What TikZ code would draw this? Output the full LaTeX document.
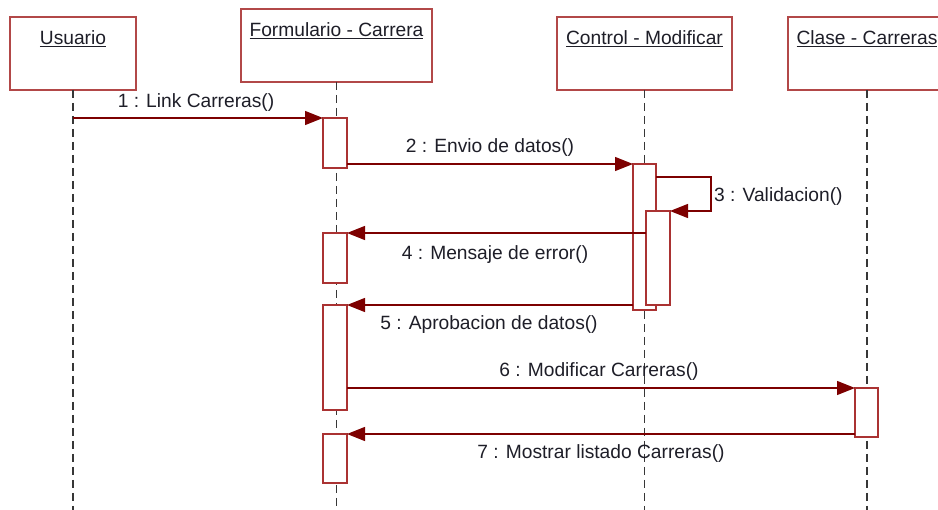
\documentclass[tikz,border=0pt]{standalone}
\usepackage{fontspec}
\setmainfont{Liberation Sans}
\usetikzlibrary{arrows.meta,calc}
\definecolor{boxred}{RGB}{178,72,72}
\definecolor{actred}{RGB}{170,50,50}
\definecolor{msgred}{RGB}{125,0,0}
\definecolor{lifegray}{RGB}{55,55,55}
\definecolor{txt}{RGB}{30,30,40}
\begin{document}
\begin{tikzpicture}[x=1pt,y=-1pt,
  font=\fontsize{19.2}{22}\selectfont, text=txt,
  objbox/.style={draw=boxred, line width=1.5pt, fill=white, inner sep=0pt, outer sep=0pt, minimum height=73pt},
  objname/.style={inner sep=0pt, anchor=base},
  act/.style={draw=actred, line width=1.3pt, fill=white, minimum width=24pt, inner sep=0pt, outer sep=0pt},
  life/.style={draw=lifegray, line width=1.4pt, dash pattern=on 8pt off 5pt},
  msg/.style={draw=msgred, line width=1.4pt, -{Triangle[length=18pt,width=14pt]}},
  lbl/.style={inner sep=0pt}]
\clip (0,0) rectangle (938,510);
\fill[white] (0,0) rectangle (938,510);
\coordinate (bottom) at (0,515);
% object boxes
\node[objbox, minimum width=126pt] (usr) at (73,53.5) {};
\node[objbox, minimum width=191pt] (frm) at (336.5,45.5) {};
\node[objbox, minimum width=175pt] (ctl) at (644.5,53.5) {};
\node[objbox, minimum width=158pt] (cls) at (867,53.5) {};
\node[objname] (tusr) at (73,45) {\underline{Usuario}};
\node[objname] (tfrm) at (336.5,37) {\underline{Formulario - Carrera}};
\node[objname] (tctl) at (644.5,45) {\underline{Control - Modificar}};
\node[objname] (tcls) at (867,45) {\underline{Clase - Carreras}};
% lifelines
\draw[life] (usr.south) -- (usr.south |- bottom);
\draw[life] (frm.south) -- (frm.south |- bottom);
\draw[life] (ctl.south) -- (ctl.south |- bottom);
\draw[life] (cls.south) -- (cls.south |- bottom);
% activations
\node[act, minimum height=50pt] (a1) at (335,143) {};
\node[act, minimum height=50pt] (a2) at (335,258) {};
\node[act, minimum height=105pt] (a3) at (335,357.5) {};
\node[act, minimum height=49pt] (a4) at (335,458.5) {};
\node[act, minimum width=23pt, minimum height=146pt] (c1) at (644.5,237) {};
\node[act, minimum height=94pt] (c2) at (658,258) {};
\node[act, minimum width=23pt, minimum height=49pt] (k1) at (866.5,412.5) {};
% messages
\coordinate (s3) at (711,177);
\draw[msg] (usr.south |- a1.north) -- (a1.north west);
\draw[msg] (a1.east |- c1.north) -- (c1.north west);
\draw[msg] (c1.east |- s3) -- (s3) -- (s3 |- c2.north) -- (c2.north east);
\draw[msg] (c2.west |- a2.north) -- (a2.north east);
\draw[msg] (c1.west |- a3.north) -- (a3.north east);
\draw[msg] (a3.east |- k1.north) -- (k1.north west);
\draw[msg] (k1.west |- a4.north) -- (a4.north east);
% labels
\node[lbl] (l1) at (196,103) {1 : Link Carreras()};
\node[lbl] (l2) at (490,148) {2 : Envio de datos()};
\node[lbl, anchor=west] (l3) at (714,197) {3 : Validacion()};
\node[lbl] (l4) at (495,255) {4 : Mensaje de error()};
\node[lbl] (l5) at (489,325) {5 : Aprobacion de datos()};
\node[lbl] (l6) at (599,372) {6 : Modificar Carreras()};
\node[lbl] (l7) at (601,454) {7 : Mostrar listado Carreras()};
\end{tikzpicture}
\end{document}
